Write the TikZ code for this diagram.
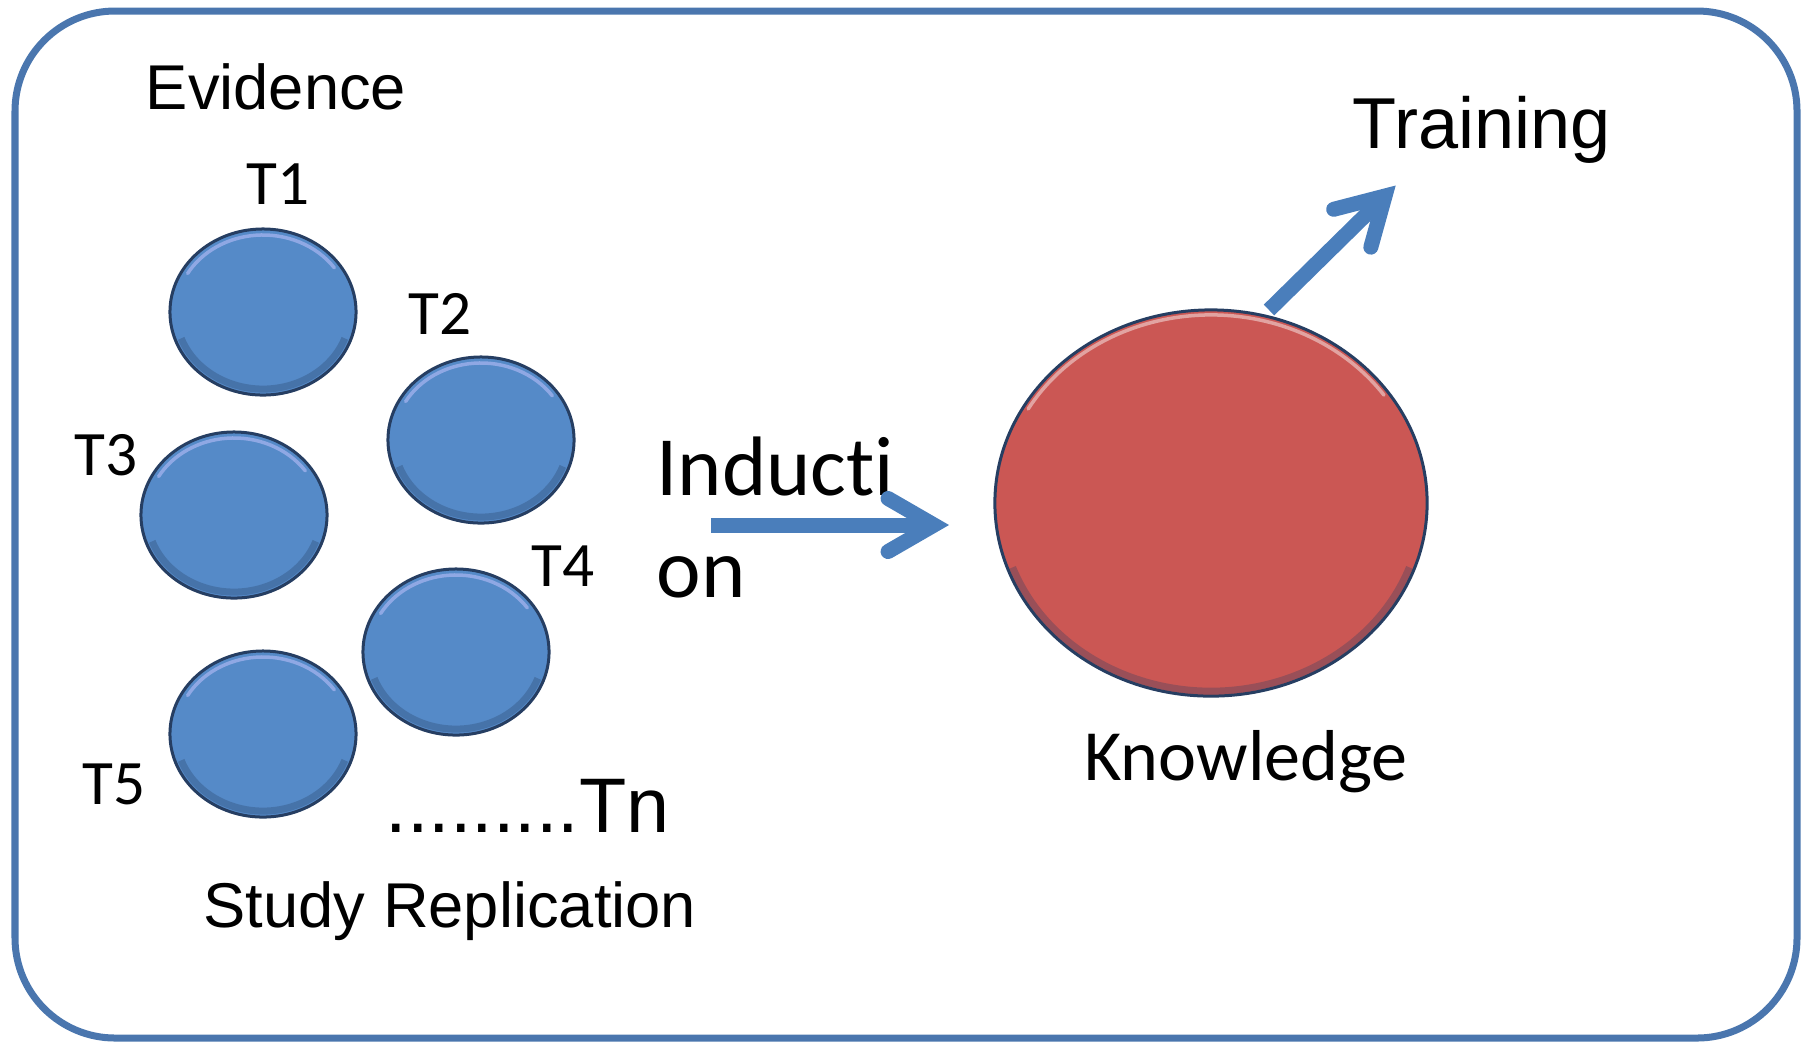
\documentclass[tikz,border=0pt]{standalone}
\usepackage{fontspec}
\setmainfont{Carlito}[Ligatures=NoCommon]
\newfontfamily\arialfont{Liberation Sans}
\usepackage{tikz}
\usetikzlibrary{shapes,calc}
\definecolor{boxblue}{RGB}{74,118,174}
\definecolor{arrowblue}{RGB}{74,126,187}
\definecolor{blobblue}{RGB}{85,138,200}
\definecolor{blobrim}{RGB}{38,62,98}
\definecolor{blobred}{RGB}{203,87,84}
\tikzset{
	fat/.style={line width=.15cm, arrowblue},
	blob/.style={ellipse, draw=blobrim, line width=.03cm, fill=blobblue, minimum width=1.86cm, minimum height=1.66cm, inner sep=0pt},
	redblob/.style={blob, fill=blobred, minimum width=4.32cm, minimum height=3.86cm},
	lbl/.style={inner sep=0pt, anchor=base}
}
\tikzstyle{frame}=[boxblue, line width=.07cm, rounded corners=1cm]
% arrow with open head: start, vertex of the head
\newcommand{\fatarrow}[2]{
	\draw[fat] (#1) -- (#2);
	\draw[fat, line cap=round, line join=miter] ($(#2)!.53cm!30:(#1)$) -- (#2) -- ($(#2)!.53cm!-30:(#1)$);
}
% bevel look: node, x radius, y radius, light colour
\newcommand{\shine}[4]{
	\draw[#4, line width=.035cm, line cap=round] ($(#1.center)+(35:#2 and #3)$) arc[start angle=35, end angle=150, x radius=#2, y radius=#3];
	\draw[blobrim, opacity=.3, line width=.07cm] ($(#1.center)+(200:#2 and #3)$) arc[start angle=200, end angle=340, x radius=#2, y radius=#3];
}

\begin{document}
\begin{tikzpicture}[x=.01cm, y=-.01cm]
	\useasboundingbox (0,0) rectangle (1801,1044);
	\draw[frame] (15,11) rectangle (1797,1038);
%
	\node[blob] (t1) at (263,312) {};
	\node[blob] (t2) at (481,440) {};
	\node[blob] (t3) at (234,515) {};
	\node[blob] (t4) at (456,652) {};
	\node[blob] (t5) at (263,734) {};
	\foreach \t in {t1,t2,t3,t4,t5}{
		\shine{\t}{.87cm}{.77cm}{blue!20!blobblue!60!white}
	}
	\node[redblob] (know) at (1211,503) {};
	\shine{know}{2.11cm}{1.88cm}{blobred!55!white}
%
	\node[lbl, font=\arialfont\fontsize{18}{22}\selectfont] (evid) at (276,109) {Evidence};
	\node[lbl, font=\fontsize{18}{22}\selectfont] (l1) at (278,204) {T1};
	\node[lbl, font=\fontsize{18}{22}\selectfont] (l2) at (440,334) {T2};
	\node[lbl, font=\fontsize{18}{22}\selectfont] (l3) at (106,475) {T3};
	\node[lbl, font=\fontsize{18}{22}\selectfont] (l4) at (563,586) {T4};
	\node[lbl, font=\fontsize{18}{22}\selectfont] (l5) at (114,804) {T5};
	\node[lbl, anchor=base west, font=\arialfont\fontsize{22}{26}\selectfont] (tn) at (385,832) {.........Tn};
	\node[lbl, font=\arialfont\fontsize{18}{22}\selectfont] (study) at (450,927) {Study Replication};
	\node[lbl, anchor=base west, font=\fontsize{24}{29}\selectfont] (ind1) at (656,495) {Inducti};
	\node[lbl, anchor=base west, font=\fontsize{24}{29}\selectfont] (ind2) at (656,597) {on};
	\node[lbl, font=\fontsize{20.5}{25}\selectfont] (knowl) at (1246,780) {Knowledge};
	\node[lbl, anchor=base west, font=\arialfont\fontsize{20.5}{25}\selectfont] (train) at (1352,148) {Training};
%
	\coordinate (indA) at (711,525);
	\coordinate (indB) at (934,525);
	\coordinate (trA) at (1269,310);
	\coordinate (trB) at (1385,196);
	\fatarrow{indA}{indB}
	\fatarrow{trA}{trB}
\end{tikzpicture}
\end{document}
